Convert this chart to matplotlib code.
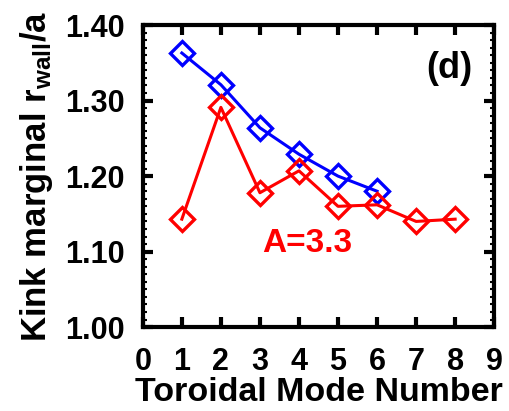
import numpy as np
import matplotlib.pyplot as plt
from matplotlib.ticker import MultipleLocator

plt.rcParams['font.family'] = ['Liberation Sans', 'DejaVu Sans']
plt.rcParams['font.weight'] = 'bold'
plt.rcParams['mathtext.default'] = 'regular'

# Data
n_blue = [1, 2, 3, 4, 5, 6]
rwall_blue = [1.363, 1.321, 1.264, 1.229, 1.200, 1.180]
n_red = [1, 2, 3, 4, 5, 6, 7, 8]
rwall_red = [1.143, 1.291, 1.178, 1.207, 1.160, 1.162, 1.140, 1.143]

fig = plt.figure(figsize=(5.10, 4.11), dpi=100)
ax = fig.add_axes([0.280, 0.204, 0.689, 0.735])

ax.plot(n_blue, rwall_blue, color='#0000ff', lw=2.2, marker='D', ms=12,
        mfc='none', mec='#0000ff', mew=2.4)
ax.plot(n_red, rwall_red, color='#ff0000', lw=2.2, marker='D', ms=12,
        mfc='none', mec='#ff0000', mew=2.4)

ax.set_xlim(0, 9)
ax.set_ylim(1.0, 1.40)
ax.set_xticks(range(10))
ax.set_yticks([1.0, 1.1, 1.2, 1.3, 1.4])
ax.set_yticklabels(['1.00', '1.10', '1.20', '1.30', '1.40'])
ax.yaxis.set_minor_locator(MultipleLocator(0.01))

ax.tick_params(which='both', direction='in', top=True, right=True,
               labelsize=22, pad=13)
ax.tick_params(which='major', length=7, width=3)
ax.tick_params(which='minor', length=3, width=1.5)
ax.tick_params(axis='x', pad=14)
for s in ax.spines.values():
    s.set_linewidth(3)

ax.text(7.85, 1.343, '(d)', fontsize=26, fontweight='bold', ha='center', va='center')
ax.text(3.05, 1.100, 'A=3.3', fontsize=24, fontweight='bold', color='#ff0000',
        ha='left', va='baseline')

ax.set_xlabel('Toroidal Mode Number', fontsize=24.5, fontweight='bold', labelpad=0)
ax.set_ylabel('Kink marginal r$_{wall}$/a', fontsize=25, fontweight='bold', labelpad=7)

fig.savefig('out.png', dpi=100)
